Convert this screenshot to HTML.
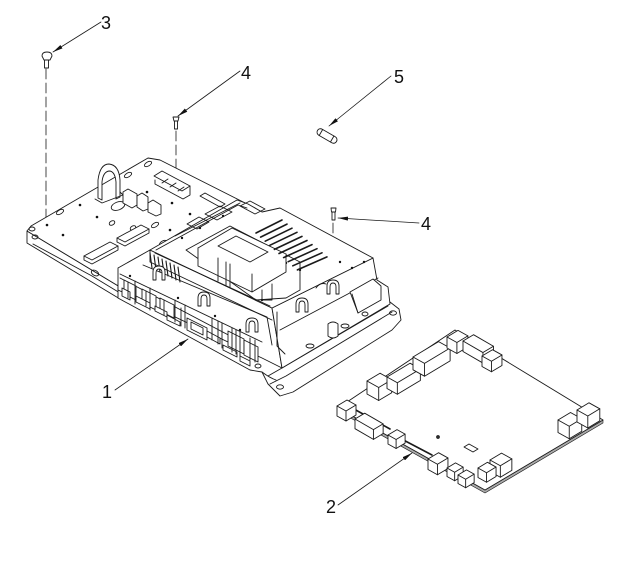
<!DOCTYPE html>
<html><head><meta charset="utf-8"><style>html,body{margin:0;padding:0;background:#fff}svg{display:block}</style></head>
<body>
<svg width="628" height="562" viewBox="0 0 628 562" xmlns="http://www.w3.org/2000/svg" xmlns:xlink="http://www.w3.org/1999/xlink">
<defs>
<marker id="ar" viewBox="0 0 10 10" refX="10" refY="5" markerWidth="10" markerHeight="4" orient="auto" markerUnits="userSpaceOnUse" preserveAspectRatio="none"><path d="M0,0 L10,5 L0,10 Z" fill="#111"/></marker>
<g id="bxA"><path vector-effect="non-scaling-stroke" d="M0,0 L10,-6 L19,-1 L19,9 L9,15 L0,10 Z" fill="#fff"/><path vector-effect="non-scaling-stroke" d="M0,0 L9,5 L19,-1 M9,5 L9,15" fill="none"/></g>
<g id="bxU"><path vector-effect="non-scaling-stroke" d="M0,0 L20,-12 L29,-7 L29,3 L9,15 L0,10 Z" fill="#fff"/><path vector-effect="non-scaling-stroke" d="M0,0 L9,5 L29,-7 M9,5 L9,15" fill="none"/></g>
<g id="bxV"><path vector-effect="non-scaling-stroke" d="M0,0 L10,-6 L29,5 L29,15 L19,21 L0,10 Z" fill="#fff"/><path vector-effect="non-scaling-stroke" d="M0,0 L19,11 L29,5 M19,11 L19,21" fill="none"/></g>
<g id="clip"><path vector-effect="non-scaling-stroke" d="M0,14 L0,6 Q0,0 6,0 Q12,0 12,6 L12,14 L9,14 L9,7 Q9,3 6,3 Q3,3 3,7 L3,14 Z" fill="#fff"/></g>
</defs>

<g stroke="#1a1a1a" stroke-width="0.9" fill="none" stroke-linejoin="round" stroke-linecap="round">

<!-- ===== Screws, dashed lines, fuse ===== -->
<g stroke-dasharray="10 4" stroke-width="0.8">
<line x1="46" y1="69" x2="46" y2="218"/>
<line x1="176" y1="131" x2="176" y2="238"/>
<line x1="333" y1="223" x2="333" y2="324"/>
</g>
<path d="M42,56 Q42,52 47,52 Q52,52 52,56 L50,60 L44,60 Z" fill="#fff"/>
<rect x="44.5" y="60" width="4" height="8" fill="#fff"/>
<path d="M173,117 L179,117 L178,121 L174,121 Z" fill="#fff"/>
<rect x="174.5" y="121" width="3" height="8" fill="#fff"/>
<path d="M331,208 L336,208 L335.5,212 L331.5,212 Z" fill="#fff"/>
<rect x="332" y="212" width="3" height="8" fill="#fff"/>
<g transform="translate(327,136) rotate(30)">
<rect x="-11" y="-3.5" width="22" height="7" rx="3.5" fill="#fff"/>
<line x1="-7" y1="-3.5" x2="-7" y2="3.5"/><line x1="6" y1="-3.5" x2="6" y2="3.5"/>
</g>

<!-- ===== Back plate (part 1 PCB) ===== -->
<path d="M27,231 L27,243 L120,299 L135,292 L135,282 L120,287 Z" fill="#fff"/>
<path d="M27,231 L31,226 L148,158 L160,160 L255,208 L135,282 L120,287 Z" fill="#fff"/>
<path d="M33,244 L92,276 L120,293"/>
<ellipse cx="32" cy="229" rx="3" ry="2"/><ellipse cx="35" cy="237" rx="3" ry="2"/>
<ellipse cx="148" cy="164" rx="4" ry="2" transform="rotate(-30 148 164)"/>
<ellipse cx="128" cy="175" rx="4" ry="2" transform="rotate(-30 128 175)"/>
<ellipse cx="60" cy="212" rx="4" ry="2" transform="rotate(-30 60 212)"/>
<ellipse cx="95" cy="273" rx="4" ry="2.5" transform="rotate(30 95 273)"/>
<ellipse cx="155" cy="225" rx="4" ry="2" transform="rotate(-30 155 225)"/>
<ellipse cx="163" cy="243" rx="4" ry="2" transform="rotate(-30 163 243)"/>
<ellipse cx="133" cy="228" rx="3" ry="2" transform="rotate(-30 133 228)"/>
<g fill="#111" stroke="none">
<circle cx="80" cy="205" r="1.3"/><circle cx="97" cy="217" r="1.3"/><circle cx="47" cy="225" r="1.3"/>
<circle cx="63" cy="235" r="1.3"/><circle cx="147" cy="192" r="1.3"/><circle cx="172" cy="203" r="1.3"/>
<circle cx="157" cy="211" r="1.3"/><circle cx="190" cy="214" r="1.3"/><circle cx="170" cy="230" r="1.3"/>
<circle cx="210" cy="222" r="1.3"/>
</g>
<path d="M98,198 L98,180 Q100,164 109,164 Q119,165 120,180 L120,197 L116,199 L116,182 Q115,171 109,171 Q103,172 102,182 L102,200 Z" fill="#fff"/>
<path d="M95,199 L102,203 L123,195 L120,192"/>
<ellipse cx="118" cy="206" rx="7" ry="4" transform="rotate(-20 118 206)"/>
<path d="M123,192 L128,189 L137,194 L137,205 L132,208 L123,203 Z" fill="#fff"/>
<path d="M137,196 L142,193 L148,197 L148,209 L143,211 L137,207 Z" fill="#fff"/>
<path d="M148,203 L153,200 L161,205 L161,214 L156,216 L148,212 Z" fill="#fff"/>
<path d="M154,176 L162,171 L190,186 L182,191 Z" fill="#fff"/>
<path d="M155,180 L155,184 L183,199 L190,195 L190,186"/>
<line x1="162" y1="183" x2="168" y2="179"/><line x1="170" y1="187" x2="176" y2="183"/><line x1="178" y1="191" x2="184" y2="187"/>
<path d="M200,196 L205,193 L225,204 L220,207 Z"/>
<ellipse cx="112" cy="223" rx="3" ry="2" transform="rotate(-30 112 223)"/>
<path d="M84,256 L110,242 L118,246 L92,260 Z" fill="#fff"/><path d="M84,256 L84,260 L92,264 L118,250 L118,246"/>
<path d="M117,238 L141,225 L149,229 L125,242 Z" fill="#fff"/><path d="M117,238 L117,242 L125,246 L149,233 L149,229"/>

<!-- ===== Housing (part 1) ===== -->
<path d="M118,284 L118,298 L250,370 L262,372 L268,384 L280,396 L293,392 L392,330 L401,320 L399,309 L390,302 L382,300 L282,360 L262,356 Z" fill="#fff"/>
<path d="M268,376 L282,368 L388,306"/>
<path d="M270,384 L286,376 L392,312"/>
<ellipse cx="280" cy="387" rx="3.5" ry="2.2"/>
<ellipse cx="393" cy="313" rx="3.5" ry="2.2"/>
<path d="M262,372 Q270,378 276,380"/>
<!-- front wall -->
<path d="M118,268 L150,250 L272,308 L282,368 L262,358 L118,290 Z" fill="#fff"/>
<path d="M120,274 L262,342"/>
<path d="M120,278 L257,350"/>
<path d="M150,250 L150,262 L272,320"/>
<path d="M143,265 L267,317 L272,345"/>
<!-- right wall -->
<path d="M272,308 L373,258 L377,280 L388,287 L390,304 L282,368 Z" fill="#fff"/>
<path d="M277,312 L277,346 L285,354"/>
<path d="M280,330 L378,278"/>
<path d="M350,292 L373,279 L381,286 L381,300 L358,313 Z" fill="#fff"/>
<line x1="358" y1="313" x2="352" y2="294"/>
<!-- top face -->
<path d="M150,250 L237,200 L248,204 L262,212 L280,208 L373,258 L272,308 Z" fill="#fff"/>
<path d="M156,250 L238,205 L247,208"/>
<path d="M155,253 L270,306"/>
<path d="M205,214 L220,206 L232,212 L217,220 Z"/>
<path d="M187,224 L199,217 L209,222 L197,229 Z"/>
<path d="M240,206 L250,201 L265,209 L255,214 Z"/>
<line x1="175" y1="236" x2="240" y2="203"/>
<g fill="#111" stroke="none">
<circle cx="182" cy="238" r="1.2"/><circle cx="200" cy="228" r="1.2"/><circle cx="223" cy="216" r="1.2"/>
<circle cx="286" cy="263" r="1.2"/><circle cx="300" cy="270" r="1.2"/><circle cx="340" cy="262" r="1.2"/>
<circle cx="352" cy="268" r="1.2"/><circle cx="364" cy="262" r="1.2"/><circle cx="262" cy="300" r="1.2"/>
<circle cx="130" cy="276" r="1.2"/><circle cx="178" cy="298" r="1.2"/><circle cx="215" cy="316" r="1.2"/><circle cx="240" cy="330" r="1.2"/>
</g>
<path d="M186,250 L230,226 L300,262 L300,290 L286,298 L256,300 Z"/>
<!-- display box -->
<path d="M198,248 L232,228 L286,254 L252,274 Z" fill="#fff"/>
<path d="M198,248 L198,266 L252,292 L286,272 L286,254 M252,274 L252,292" fill="#fff"/>
<path d="M218,246 L236,236 L268,252 L250,262 Z"/>
<path d="M218,258 L218,281 M226,262 L226,285 M230,264 L230,287"/>
<path d="M262,290 L262,300 L272,300 L272,284"/>
<!-- vents -->
<g stroke-width="1.6">
<line x1="256" y1="233" x2="282" y2="220"/><line x1="260.6" y1="237.1" x2="287" y2="224.1"/>
<line x1="265.2" y1="241.2" x2="292" y2="228.2"/><line x1="269.8" y1="245.3" x2="297" y2="232.3"/>
<line x1="274.4" y1="249.4" x2="302" y2="236.4"/><line x1="279" y1="253.5" x2="307" y2="240.5"/>
<line x1="283.6" y1="257.6" x2="312" y2="244.6"/><line x1="288.2" y1="261.7" x2="317" y2="248.7"/>
<line x1="292.8" y1="265.8" x2="322" y2="252.8"/><line x1="297.4" y1="269.9" x2="327" y2="256.9"/>
</g>
<path d="M316,288 Q320,282 326,284"/>
<!-- pins -->
<g stroke-width="1.1">
<line x1="150" y1="253" x2="152" y2="268"/><line x1="154" y1="255" x2="156" y2="270"/>
<line x1="158" y1="257" x2="160" y2="272"/><line x1="162" y1="259" x2="164" y2="274"/>
<line x1="166" y1="261" x2="168" y2="276"/><line x1="170" y1="263" x2="172" y2="278"/>
<line x1="174" y1="265" x2="176" y2="280"/><line x1="178" y1="267" x2="180" y2="282"/>
</g>
<!-- front recess boxes -->
<g fill="#fff">
<path d="M124,280 L136,286 L136,300 L124,294 Z"/>
<path d="M142,289 L156,296 L156,310 L142,303 Z"/>
<path d="M160,298 L174,305 L174,318 L160,311 Z"/>
<path d="M228,331 L244,339 L244,354 L228,346 Z"/>
<path d="M244,340 L258,347 L258,362 L244,355 Z"/>
</g>
<g stroke="#1a1a1a"><use href="#clip" xlink:href="#clip" transform="translate(153,266)"/>
<use href="#clip" xlink:href="#clip" transform="translate(198,292)"/>
<use href="#clip" xlink:href="#clip" transform="translate(246,318)"/>
<use href="#clip" xlink:href="#clip" transform="translate(296,298)"/>
<use href="#clip" xlink:href="#clip" transform="translate(327,280)"/>
</g>
<g fill="#fff">
<path d="M122,288 L130,292 L130,300 L122,296 Z"/>
<path d="M136,296 L150,303 L150,309 L136,302 Z"/>
<path d="M155,306 L167,312 L167,317 L155,311 Z"/>
<path d="M167,315 L180,322 L180,326 L167,320 Z"/>
<path d="M187,318 L207,328 L207,340 L187,330 Z"/>
<path d="M191,322 L203,328 L203,335 L191,329 Z"/>
<path d="M207,331 L220,338 L220,344 L207,337 Z"/>
<path d="M223,345 L237,352 L237,357 L223,350 Z"/>
<path d="M240,356 L250,361 L250,366 L240,361 Z"/>
</g>
<path d="M135,281 L135,304 M150,288 L150,310 M175,300 L175,322 M185,305 L185,328 M212,318 L212,340 M222,323 L222,348 M232,328 L232,352 M240,332 L240,356 M255,340 L255,362"/>
<path d="M128,282 L128,298 M146,291 L146,306 M164,300 L164,315 M181,308 L181,326 M218,321 L218,344 M236,330 L236,354 M250,338 L250,360"/>
<path d="M328,324 L328,336 Q333,340 338,336 L338,324 Q333,320 328,324 Z" fill="#fff"/>
<ellipse cx="310" cy="346" rx="4" ry="2"/><ellipse cx="345" cy="326" rx="4" ry="2"/><ellipse cx="365" cy="314" rx="3" ry="2"/>
<ellipse cx="258" cy="366" rx="3" ry="2"/>

<!-- ===== PCB 2 ===== -->
<path d="M338,408 L338,411 L485,493 L603,423 L603,420 L485,490 Z" fill="#aaa" stroke-width="0.6"/>
<path d="M338,408 L455,330 L603,420 L485,490 Z" fill="#fff"/>
<path d="M345,404 L390,429" stroke-width="1.6"/>
<path d="M392,434 L432,455" stroke-width="1.6"/>
<g stroke="#1a1a1a">
<use href="#bxA" xlink:href="#bxA" transform="translate(367,381) scale(1.3)"/>
<use href="#bxU" xlink:href="#bxU" transform="translate(387,377) scale(1.15)"/>
<use href="#bxU" xlink:href="#bxU" transform="translate(413,357) scale(1.28)"/>
<use href="#bxA" xlink:href="#bxA" transform="translate(447,337) scale(1.1)"/>
<use href="#bxV" xlink:href="#bxV" transform="translate(463,341) scale(1.05)"/>
<use href="#bxA" xlink:href="#bxA" transform="translate(482,356) scale(1.05)"/>
<use href="#bxA" xlink:href="#bxA" transform="translate(337,406)"/>
<use href="#bxV" xlink:href="#bxV" transform="translate(355,419) scale(0.97)"/>
<use href="#bxA" xlink:href="#bxA" transform="translate(388,435) scale(0.9)"/>
<use href="#bxA" xlink:href="#bxA" transform="translate(428,459) scale(1.05)"/>
<use href="#bxA" xlink:href="#bxA" transform="translate(447,468) scale(0.85)"/>
<use href="#bxA" xlink:href="#bxA" transform="translate(458,475) scale(0.85)"/>
<use href="#bxA" xlink:href="#bxA" transform="translate(490,460) scale(1.15)"/>
<use href="#bxA" xlink:href="#bxA" transform="translate(478,468) scale(0.95)"/>
<use href="#bxA" xlink:href="#bxA" transform="translate(558,420) scale(1.25)"/>
<use href="#bxA" xlink:href="#bxA" transform="translate(577,410) scale(1.2)"/>
</g>
<circle cx="438" cy="437" r="1.4" fill="#333"/>
<path d="M464,447 L469,444 L478,449 L473,452 Z" fill="#fff"/>

<!-- ===== Leaders ===== -->
<g stroke-width="0.8" marker-end="url(#ar)">
<line x1="101" y1="22" x2="53" y2="52"/>
<line x1="240" y1="71" x2="178" y2="116"/>
<line x1="391" y1="76" x2="329" y2="126"/>
<line x1="419" y1="223" x2="338" y2="218"/>
<line x1="115" y1="390" x2="188" y2="339"/>
<line x1="338" y1="505" x2="412" y2="453"/>
</g>
</g>

<g font-family="'Liberation Sans', Arial, sans-serif" font-size="18" fill="#111">
<text x="101" y="29">3</text>
<text x="241" y="79">4</text>
<text x="394" y="83">5</text>
<text x="421" y="230">4</text>
<text x="102" y="398">1</text>
<text x="326" y="513">2</text>
</g>
</svg>
</body></html>
